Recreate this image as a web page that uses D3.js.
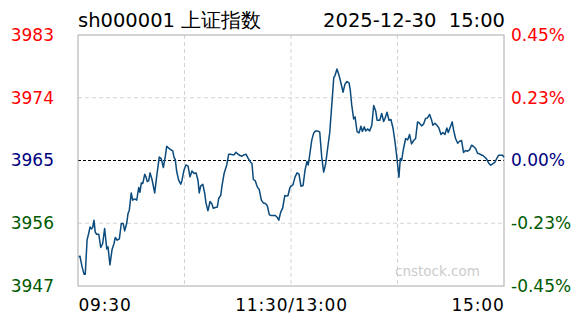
<!DOCTYPE html>
<html>
<head>
<meta charset="utf-8">
<script src="https://cdn.jsdelivr.net/npm/d3@7"></script>
<style>
body { margin: 0; background: #fff; }
svg text { font-family: "DejaVu Sans", Verdana, sans-serif; }
</style>
</head>
<body>
<svg id="chart" width="588" height="324"></svg>
<script>
// index info
const code = 'sh000001 上证指数';
const stamp = '2025-12-30  15:00';
const prevClose = 3965.12;
const pctRange = 0.0045;

// tick labels
const priceTicks = ['3983', '3974', '3965', '3956', '3947'];
const pctTicks = ['0.45%', '0.23%', '0.00%', '-0.23%', '-0.45%'];
const timeTicks = ['09:30', '11:30/13:00', '15:00'];
const tickColors = ['#ff0000', '#ff0000', '#000080', '#005a00', '#005a00'];

// minute index since 09:30 (lunch break removed, 0..240) and index level
const minutes = [0.4, 1.1, 2.3, 3.4, 4.1, 5.1, 6.0, 6.8, 7.5, 8.3, 9.0, 9.7, 10.5, 11.7, 12.8, 13.9, 15.0, 16.2, 16.9, 18.0,
  19.2, 20.3, 21.0, 22.1, 23.3, 24.4, 25.5, 26.3, 27.4, 28.2, 28.9, 30.0, 30.8, 31.9, 33.1, 34.2, 34.9, 35.7, 36.5, 37.6,
  38.3, 39.0, 39.8, 40.6, 41.7, 43.2, 44.3, 45.8, 46.9, 48.1, 49.2, 50.0, 51.1, 52.2, 53.4, 54.1, 54.8, 55.6, 56.7, 57.9,
  58.6, 59.7, 60.8, 62.0, 63.1, 64.2, 65.4, 66.5, 67.6, 68.3, 69.1, 70.3, 71.4, 72.1, 73.2, 74.4, 75.5, 76.2, 77.4, 78.5,
  79.3, 80.4, 81.1, 82.3, 83.8, 84.9, 86.0, 87.2, 87.9, 89.0, 90.1, 91.3, 92.4, 93.5, 94.6, 95.8, 96.9, 98.0, 98.8, 99.9,
  101.0, 102.1, 103.3, 104.4, 105.5, 106.6, 107.8, 108.9, 110.0, 111.2, 112.3, 113.1, 114.2, 115.3, 116.5, 117.6, 118.3, 119.4,
  120.0, 121.1, 122.3, 123.4, 124.5, 125.6, 126.8, 127.9, 129.0, 129.7, 130.5, 131.7, 132.8, 133.9, 135.0, 136.2, 137.3, 138.4,
  139.5, 140.7, 141.8, 142.9, 144.1, 144.8, 145.9, 147.0, 148.2, 149.3, 150.4, 151.5, 152.7, 153.4, 154.2, 155.3, 156.1, 157.2,
  158.3, 159.4, 160.2, 161.3, 162.1, 163.2, 164.3, 165.5, 166.6, 167.7, 168.5, 170.0, 171.1, 172.2, 173.0, 174.1, 175.2, 176.3,
  177.5, 178.6, 179.7, 180.8, 181.6, 182.3, 183.4, 184.6, 185.7, 186.8, 187.9, 189.1, 190.2, 191.3, 192.4, 193.6, 194.7, 195.8,
  196.9, 198.1, 199.2, 199.9, 201.1, 202.2, 203.3, 204.5, 205.6, 206.7, 207.8, 208.6, 209.7, 210.8, 211.6, 212.7, 213.9, 215.0,
  216.1, 217.2, 218.3, 219.5, 220.6, 221.7, 222.8, 224.0, 225.1, 226.2, 227.3, 228.0, 229.2, 230.3, 231.4, 232.5, 233.6, 234.8,
  235.9, 237.0, 238.1, 239.2, 240];
const prices = [3951.42, 3951.52, 3950.00, 3948.96, 3948.96, 3953.79, 3954.74, 3955.68, 3955.40, 3955.60, 3956.63, 3954.93, 3954.64, 3954.64, 3952.75, 3953.32, 3955.45, 3952.55, 3952.84, 3950.28,
  3952.47, 3953.32, 3954.17, 3953.79, 3953.98, 3956.16, 3956.16, 3955.11, 3956.16, 3957.59, 3958.06, 3960.51, 3959.48, 3959.66, 3959.48, 3961.28, 3960.61, 3961.94, 3961.85, 3963.17,
  3962.79, 3962.13, 3962.22, 3963.36, 3962.42, 3960.51, 3962.79, 3965.63, 3965.35, 3964.12, 3965.73, 3967.15, 3966.87, 3966.68, 3966.48, 3965.55, 3965.26, 3963.56, 3962.32, 3961.75,
  3962.32, 3963.74, 3964.49, 3964.31, 3962.79, 3963.64, 3963.27, 3963.36, 3962.32, 3960.51, 3961.47, 3961.75, 3960.43, 3959.09, 3957.96, 3959.29, 3958.91, 3958.34, 3958.44, 3958.52,
  3959.76, 3960.14, 3961.47, 3963.27, 3964.49, 3966.02, 3966.02, 3965.92, 3965.92, 3966.30, 3966.02, 3965.83, 3965.73, 3965.92, 3966.02, 3965.45, 3964.98, 3964.69, 3962.42, 3962.22,
  3961.37, 3961.00, 3959.48, 3959.09, 3959.01, 3958.72, 3957.39, 3957.30, 3957.30, 3957.30, 3957.02, 3956.63, 3957.77, 3958.34, 3960.14, 3960.05, 3960.14, 3961.28,
  3961.47, 3961.65, 3962.79, 3963.36, 3963.17, 3961.47, 3961.57, 3963.74, 3964.98, 3964.49, 3965.83, 3968.01, 3969.04, 3969.33, 3969.33, 3969.14, 3965.63, 3963.46,
  3964.59, 3966.97, 3969.04, 3972.74, 3976.92, 3977.20, 3978.14, 3977.29, 3976.07, 3974.83, 3975.97, 3976.35, 3976.15, 3975.11, 3973.02, 3971.03, 3971.32, 3969.24,
  3969.04, 3970.00, 3969.24, 3969.90, 3969.33, 3969.61, 3969.33, 3970.10, 3972.94, 3972.17, 3970.85, 3970.85, 3971.80, 3970.66, 3971.13, 3971.99, 3970.85, 3970.95,
  3969.67, 3967.76, 3965.40, 3962.75, 3965.40, 3965.12, 3966.83, 3968.25, 3968.05, 3968.82, 3967.48, 3967.96, 3968.25, 3970.61, 3970.42, 3970.04, 3970.32, 3971.09,
  3971.18, 3971.66, 3970.89, 3970.14, 3970.42, 3970.14, 3969.75, 3968.82, 3969.10, 3968.82, 3969.75, 3969.10, 3969.85, 3970.61, 3969.47, 3968.25, 3967.58, 3967.86,
  3967.96, 3966.26, 3966.54, 3966.44, 3966.63, 3967.29, 3967.11, 3966.83, 3966.16, 3966.06, 3965.87, 3965.87, 3965.59, 3965.30, 3964.74, 3964.45, 3964.64, 3964.84,
  3965.40, 3965.87, 3965.87, 3965.87, 3965.59];

const margin = {left: 78, right: 84, top: 35, bottom: 38};
const svg = d3.select('#chart');
const W = +svg.attr('width') - margin.left - margin.right;
const H = +svg.attr('height') - margin.top - margin.bottom;

const xs = d3.scaleLinear().domain([0, 240]).range([0, W]);
const ys = d3.scaleLinear()
  .domain([prevClose * (1 - pctRange), prevClose * (1 + pctRange)])
  .range([H, 0]);
const tickLevels = [1, 0.5, 0, -0.5, -1].map(k => prevClose * (1 + k * pctRange));
const timeLevels = [0, 120, 240];

const g = svg.append('g').attr('transform', `translate(${margin.left},${margin.top})`);

// grid
g.append('g')
  .selectAll('line')
  .data([60, 120, 180])
  .enter().append('line')
    .attr('x1', d => xs(d)).attr('x2', d => xs(d))
    .attr('y1', 0).attr('y2', H)
    .style('stroke', '#d4d4d4').style('stroke-dasharray', '4,3');
g.append('g')
  .selectAll('line')
  .data([tickLevels[1], tickLevels[3]])
  .enter().append('line')
    .attr('x1', 0).attr('x2', W)
    .attr('y1', d => ys(d)).attr('y2', d => ys(d))
    .style('stroke', '#d4d4d4').style('stroke-dasharray', '4,3');
g.append('line')
  .attr('x1', 0).attr('x2', W)
  .attr('y1', ys(prevClose)).attr('y2', ys(prevClose))
  .style('stroke', '#000').style('stroke-dasharray', '3,2');

// watermark
g.append('text')
  .attr('x', 395 - margin.left).attr('y', 276 - margin.top)
  .attr('font-size', 13.5).style('fill', '#cccccc')
  .text('cnstock.com');

// frame
g.append('rect')
  .attr('x', 0).attr('y', 0).attr('width', W).attr('height', H)
  .style('fill', 'none').style('stroke', '#aaaaaa');

// price line
const pts = minutes.map((m, i) => [m, prices[i]]);
g.append('path')
  .datum(pts)
  .attr('d', d3.line().x(d => xs(d[0])).y(d => ys(d[1])))
  .style('fill', 'none').style('stroke', '#0a4a7c').style('stroke-width', 1.5)
  .style('stroke-linejoin', 'round');

// axes
const left = g.append('g')
  .call(d3.axisLeft(ys).tickValues(tickLevels).tickSize(0).tickPadding(24)
    .tickFormat((d, i) => priceTicks[i]));
const right = g.append('g')
  .attr('transform', `translate(${W},0)`)
  .call(d3.axisRight(ys).tickValues(tickLevels).tickSize(0).tickPadding(7)
    .tickFormat((d, i) => pctTicks[i]));
[left, right].forEach(a => {
  a.select('.domain').remove();
  a.selectAll('text')
    .attr('font-family', '"DejaVu Sans", Verdana, sans-serif')
    .attr('font-size', 17)
    .style('fill', (d, i) => tickColors[i]);
});

const bottom = g.append('g')
  .attr('transform', `translate(0,${H})`)
  .call(d3.axisBottom(xs).tickValues(timeLevels).tickSize(0).tickPadding(13)
    .tickFormat((d, i) => timeTicks[i]));
bottom.select('.domain').remove();
bottom.selectAll('text')
  .attr('font-family', '"DejaVu Sans", Verdana, sans-serif')
  .attr('font-size', 17)
  .style('letter-spacing', '0.8px')
  .style('fill', '#000')
  .attr('text-anchor', (d, i) => ['start', 'middle', 'end'][i]);

// header
svg.append('text')
  .attr('x', margin.left).attr('y', 27)
  .attr('font-size', 19.5).style('fill', '#000')
  .text(code);
svg.append('text')
  .attr('x', 505).attr('y', 27)
  .attr('text-anchor', 'end')
  .attr('font-size', 19.5).style('fill', '#000')
  .style('white-space', 'pre')
  .text(stamp);
</script>
</body>
</html>
